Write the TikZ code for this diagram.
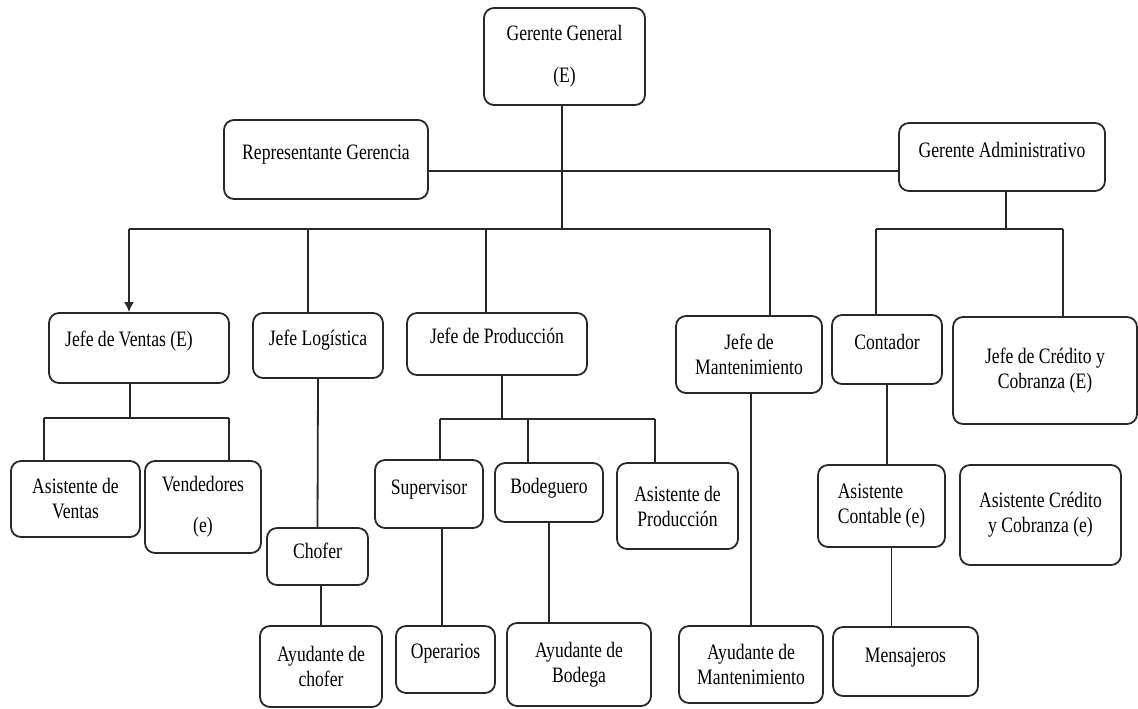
\documentclass[tikz,border=0pt]{standalone}
\usepackage{fontspec}
\setmainfont{Liberation Serif}[FakeStretch=0.8]
\usetikzlibrary{arrows.meta}
\definecolor{linegray}{RGB}{40,40,40}

\begin{document}
\begin{tikzpicture}[x=0.5pt, y=-0.5pt, font=\fontsize{11pt}{12.5pt}\selectfont,
    box/.style={rectangle, rounded corners=5pt, draw=linegray, line width=0.9pt,
                align=center, inner sep=0pt},
    one/.style={text height=7.5pt, text depth=#1}, one/.default=8pt,
    conn/.style={draw=linegray, line width=0.9pt}]
  \useasboundingbox (0,0) rectangle (1138,708);
  % top level
  \node[box, minimum width=80.5pt, minimum height=48.5pt] (gg) at (564.5,56.5) {Gerente General\\[8.5pt](E)};
  \node[box, one, minimum width=102pt, minimum height=39.5pt] (rep) at (326,159.5) {Representante Gerencia};
  \node[box, one=7.5pt, minimum width=103pt, minimum height=34pt] (ga) at (1002,157) {Gerente Administrativo};
  % jefes
  \node[box, one=9.5pt, minimum width=90pt, minimum height=35pt] (jv) at (139,348) {Jefe de Ventas (E)\hspace*{10pt}};
  \node[box, one, minimum width=65pt, minimum height=32.5pt] (jl) at (318,345.5) {Jefe Logística};
  \node[box, one=8.5pt, minimum width=90pt, minimum height=31pt] (jp) at (497,344) {Jefe de Producción};
  \node[box, minimum width=73pt, minimum height=38.5pt] (jm) at (749,354.5) {Jefe de\\Mantenimiento};
  \node[box, one, minimum width=55pt, minimum height=34.5pt] (cont) at (887,349.5) {Contador};
  \node[box, minimum width=92pt, minimum height=53.5pt] (jc) at (1045,370.5) {Jefe de Crédito y\\Cobranza (E)};
  % third row
  \node[box, minimum width=64.5pt, minimum height=38pt] (av) at (75.5,499) {Asistente de\\Ventas};
  \node[box, minimum width=58pt, minimum height=46pt] (ve) at (203,507) {Vendedores\\[8pt](e)};
  \node[box, one=6pt, minimum width=50.5pt, minimum height=28.5pt] (ch) at (317.5,556.5) {Chofer};
  \node[box, one=7.5pt, minimum width=54pt, minimum height=34pt] (sup) at (429,494) {Supervisor};
  \node[box, one=7pt, minimum width=54pt, minimum height=29.5pt] (bod) at (549,492.5) {Bodeguero};
  \node[box, minimum width=60.5pt, minimum height=43pt] (ap) at (677.5,506) {Asistente de\\Producción};
  \node[box, align=left, minimum width=63.5pt, minimum height=41pt] (ac) at (881.5,506) {Asistente\\Contable (e)};
  \node[box, minimum width=80.5pt, minimum height=50pt] (acc) at (1040.5,515) {Asistente Crédito\\y Cobranza (e)};
  % bottom row
  \node[box, minimum width=61pt, minimum height=40.5pt] (ayc) at (321,666.5) {Ayudante de\\chofer};
  \node[box, one=9pt, minimum width=49.5pt, minimum height=33.5pt] (op) at (445.5,659.5) {Operarios};
  \node[box, minimum width=72pt, minimum height=41.5pt] (ab) at (579,664.5) {Ayudante de\\Bodega};
  \node[box, minimum width=72pt, minimum height=38.5pt] (aym) at (751,664.5) {Ayudante de\\Mantenimiento};
  \node[box, one=7pt, minimum width=72.5pt, minimum height=34.5pt] (msg) at (905.5,661.5) {Mensajeros};

  % branch points
  \coordinate (d1) at (129,229);
  \coordinate (d2) at (308,229);
  \coordinate (d3) at (486,229);
  \coordinate (d4) at (770,229);
  \coordinate (a1) at (876,229);
  \coordinate (a2) at (1063,229);
  \coordinate (v1) at (44,418);
  \coordinate (v2) at (229,418);
  \coordinate (p1) at (440,419);
  \coordinate (p2) at (528,419);
  \coordinate (p3) at (655,419);

  % gerencia
  \draw[conn] ([xshift=-1.25pt]gg.south) -- ([xshift=-1.25pt]gg.south |- d1);
  \draw[conn] ([yshift=-5.75pt]rep.east) -- ([yshift=-5.75pt]rep.east -| ga.west);
  \draw[conn] (d1) -- (d4);
  \draw[conn, -{Latex[length=5pt,width=5pt]}] (d1) -- (d1 |- jv.north);
  \draw[conn] (d2) -- (d2 |- jl.north);
  \draw[conn] (d3) -- (d3 |- jp.north);
  \draw[conn] (d4) -- (d4 |- jm.north);
  \draw[conn] ([xshift=2pt]ga.south) -- ([xshift=2pt]ga.south |- a1);
  \draw[conn] (a1) -- (a2);
  \draw[conn] (a1) -- (a1 |- cont.north);
  \draw[conn] (a2) -- (a2 |- jc.north);
  % ventas
  \draw[conn] ([xshift=-4.5pt]jv.south) -- ([xshift=-4.5pt]jv.south |- v1);
  \draw[conn] (v1) -- (v2);
  \draw[conn] (v1) -- (v1 |- av.north);
  \draw[conn] (v2) -- (v2 |- ve.north);
  % logistica
  \draw[conn] (jl.south) -- (ch.north);
  \draw[conn] (ayc.north) -- (ayc.north |- ch.south);
  % produccion
  \draw[conn] ([xshift=2.5pt]jp.south) -- ([xshift=2.5pt]jp.south |- p1);
  \draw[conn] (p1) -- (p3);
  \draw[conn] (p1) -- (p1 |- sup.north);
  \draw[conn] (p2) -- (p2 |- bod.north);
  \draw[conn] (p3) -- (p3 |- ap.north);
  \draw[conn] ([xshift=-1.75pt]op.north) -- ([xshift=-1.75pt]op.north |- sup.south);
  \draw[conn] (bod.south) -- (bod.south |- ab.north);
  % mantenimiento y contabilidad
  \draw[conn] (aym.north) -- (aym.north |- jm.south);
  \draw[conn] (cont.south) -- (cont.south |- ac.north);
  \draw[conn] ([xshift=5pt]ac.south) -- ([xshift=5pt]ac.south |- msg.north);
\end{tikzpicture}
\end{document}
